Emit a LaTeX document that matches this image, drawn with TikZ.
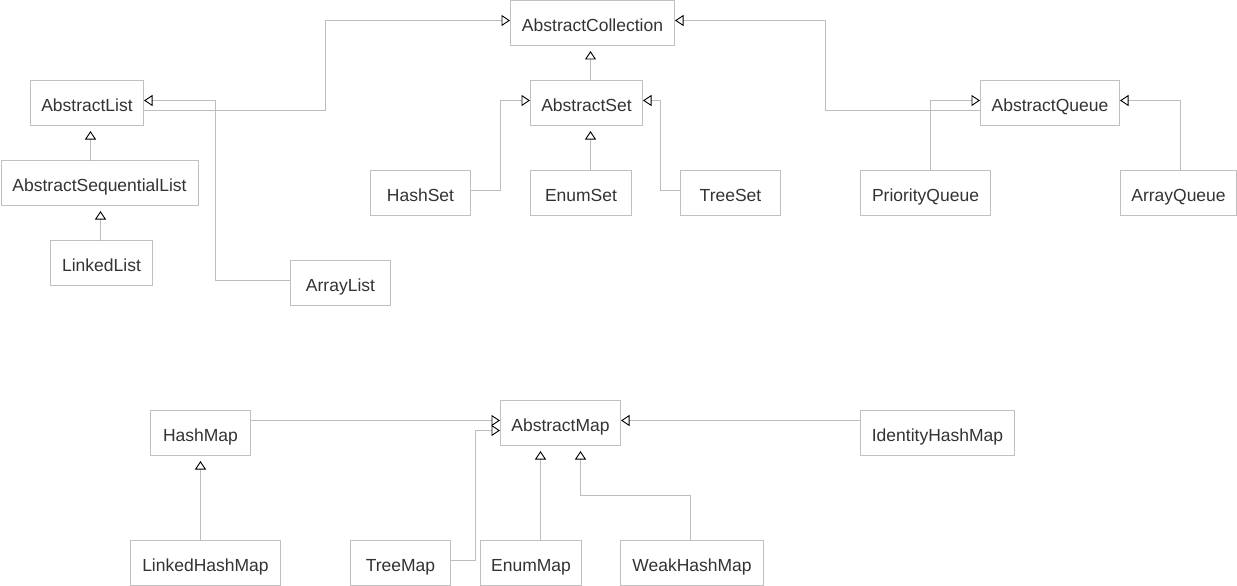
\documentclass[tikz,border=0pt]{standalone}
\usepackage{fontspec}
\setmainfont{Liberation Sans}
\usetikzlibrary{arrows.meta}
\definecolor{boxline}{HTML}{C0C0C0}
\definecolor{connline}{HTML}{BDBDBD}
\definecolor{txt}{HTML}{333333}
\tikzset{
  cls/.style={draw=boxline, line width=1pt, fill=white, inner sep=0pt, minimum height=45pt,
    text height=17.4pt, text depth=0pt,
    text=txt, font=\fontsize{17.5}{20}\selectfont},
  inh/.style={draw=connline, line width=1pt,
    -{Triangle[open, length=8.5pt, width=11pt, color=black, line width=0.9pt]}},
  gap/.style={shorten >=5pt}
}
\begin{document}
\begin{tikzpicture}[x=1pt,y=-1pt]
\useasboundingbox (0,0) rectangle (1237,586);
\begin{scope}[shift={(0.5,0.5)}]
% collections
\node[cls, minimum width=164pt] (AC) at (592,22.5) {AbstractCollection};
\node[cls, minimum width=113pt] (AL) at (86.5,102.5) {AbstractList};
\node[cls, minimum width=197pt] (ASL) at (99,182.5) {AbstractSequentialList};
\node[cls, minimum width=102pt] (LL) at (101,262.5) {LinkedList};
\node[cls, minimum width=100pt] (ArrL) at (340,282.5) {ArrayList};
\node[cls, minimum width=112pt] (AS) at (586,102.5) {AbstractSet};
\node[cls, minimum width=100pt] (HS) at (420,192.5) {HashSet};
\node[cls, minimum width=101pt] (ES) at (580.5,192.5) {EnumSet};
\node[cls, minimum width=100pt] (TS) at (730,192.5) {TreeSet};
\node[cls, minimum width=139pt] (AQ) at (1049.5,102.5) {AbstractQueue};
\node[cls, minimum width=130pt] (PQ) at (925,192.5) {PriorityQueue};
\node[cls, minimum width=116pt] (AQu) at (1178,192.5) {ArrayQueue};
% maps
\node[cls, minimum width=100pt] (HM) at (200,432.5) {HashMap};
\node[cls, minimum width=120pt] (AM) at (560,422.5) {AbstractMap};
\node[cls, minimum width=154pt] (IHM) at (937,432.5) {IdentityHashMap};
\node[cls, minimum width=150pt] (LHM) at (205,562.5) {LinkedHashMap};
\node[cls, minimum width=100pt] (TM) at (400,562.5) {TreeMap};
\node[cls, minimum width=101pt] (EM) at (530.5,562.5) {EnumMap};
\node[cls, minimum width=143pt] (WHM) at (691.5,562.5) {WeakHashMap};
% connectors (collections)
\draw[inh] (AL.east |- 0,110) -- (325,110) |- (AC.west |- 0,20);
\draw[inh] (ArrL.west |- 0,280) -| (215,100) -- (AL.east |- 0,100);
\draw[inh, gap] (ASL.north -| 90,0) -- (AL.south -| 90,0);
\draw[inh, gap] (LL.north -| 100,0) -- (ASL.south -| 100,0);
\draw[inh, gap] (AS.north -| 590,0) -- (AC.south -| 590,0);
\draw[inh] (HS.east |- 0,190) -| (500,100) -- (AS.west |- 0,100);
\draw[inh, gap] (ES.north -| 590,0) -- (AS.south -| 590,0);
\draw[inh] (TS.west |- 0,190) -| (660,100) -- (AS.east |- 0,100);
\draw[inh] (AQ.west |- 0,110) -| (825,20) -- (AC.east |- 0,20);
\draw[inh] (PQ.north -| 930,0) |- (AQ.west |- 0,100);
\draw[inh] (AQu.north -| 1180,0) |- (AQ.east |- 0,100);
% connectors (maps)
\draw[inh] (HM.east |- 0,420) -- (AM.west |- 0,420);
\draw[inh] (TM.east |- 0,560) -| (475,430) -- (AM.west |- 0,430);
\draw[inh, gap] (LHM.north -| 200,0) -- (HM.south -| 200,0);
\draw[inh, gap] (EM.north -| 540,0) -- (AM.south -| 540,0);
\draw[inh, gap] (WHM.north -| 690,0) |- (580,495) -- (AM.south -| 580,0);
\draw[inh] (IHM.west |- 0,420) -- (AM.east |- 0,420);
\end{scope}
\end{tikzpicture}
\end{document}
